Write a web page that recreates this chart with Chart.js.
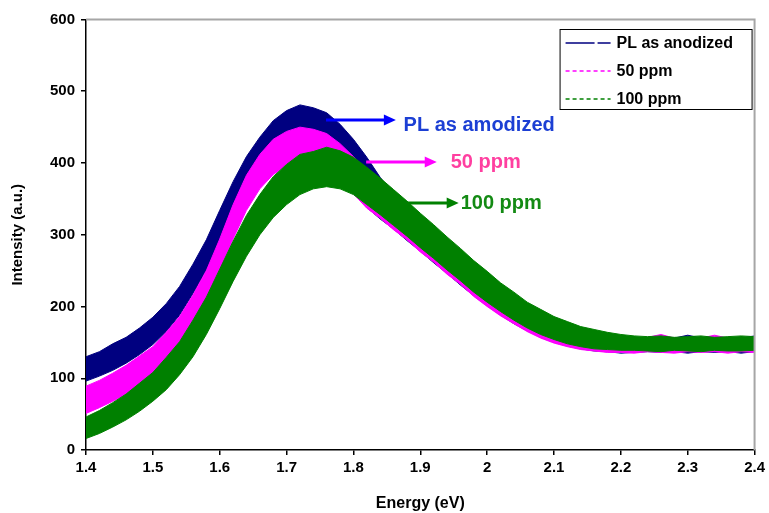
<!DOCTYPE html>
<html>
<head>
<meta charset="utf-8">
<script src="https://cdn.jsdelivr.net/npm/chart.js@4.4.0/dist/chart.umd.min.js"></script>
<style>
html,body{margin:0;padding:0;background:#fff;}
#wrap{width:769px;height:513px;position:relative;}
canvas{display:block;}
</style>
</head>
<body>
<div id="wrap"><canvas id="c" width="769" height="513"></canvas></div>
<script>
// ---- data (lower / upper edge of each noisy band) ----
const energy = [1.40,1.42,1.44,1.46,1.48,1.50,1.52,1.54,1.56,1.58,1.60,1.62,1.64,1.66,1.68,1.70,1.72,1.74,1.76,1.78,1.80,1.82,1.84,1.86,1.88,1.90,1.92,1.94,1.96,1.98,2.00,2.02,2.04,2.06,2.08,2.10,2.12,2.14,2.16,2.18,2.20,2.22,2.24,2.26,2.28,2.30,2.32,2.34,2.36,2.38,2.40];

const asAnodizedLow  = [96,103,111,121,133,147,165,188,218,251,291,330,364,390,410,423,429,428,419,402,372,338,322,308,292,277,261,246,230,215,201,188,176,166,157,150,145,141,138,137,135,136,137,136,137,135,137,136,137,135,137];
const asAnodizedHigh = [130,137,148,157,170,185,204,228,259,293,334,374,409,436,459,473,481,477,470,454,433,408,380,357,338,321,304,288,271,254,238,223,210,197,186,177,170,164,160,157,156,155,156,157,156,160,156,155,157,156,159];

const ppm50Low  = [51,59,68,78,90,104,121,144,171,206,247,294,334,364,384,396,401,400,392,377,357,337,323,307,293,276,262,245,231,214,200,187,176,165,156,149,144,140,138,136,136,135,137,136,135,137,136,137,135,137,136];
const ppm50High = [89,97,107,118,131,144,164,186,216,250,294,342,383,412,433,444,450,447,441,427,409,389,370,354,337,321,305,289,273,257,241,226,213,200,189,180,172,166,162,159,157,156,157,161,156,157,156,160,156,157,157];

const ppm100Low  = [16,23,32,42,54,68,84,105,130,161,197,235,270,300,324,342,356,364,367,364,356,342,328,313,298,282,267,251,236,220,206,193,181,170,161,154,148,144,141,140,139,139,138,137,139,138,137,139,138,138,139];
const ppm100High = [46,55,66,78,93,108,129,151,181,213,252,291,327,356,381,398,412,416,422,417,408,394,379,363,347,330,314,297,281,264,249,233,220,206,196,186,179,172,168,164,161,159,158,159,157,158,159,157,158,159,158];

const seriesNames = ['PL as anodized', '50 ppm', '100 ppm'];
const calloutTexts = ['PL as amodized', '50 ppm', '100 ppm'];

const xTickValues = [1.4,1.5,1.6,1.7,1.8,1.9,2.0,2.1,2.2,2.3,2.4];
const xTickLabels = ['1.4','1.5','1.6','1.7','1.8','1.9','2','2.1','2.2','2.3','2.4'];
const yTickValues = [0,100,200,300,400,500,600];
const yTickLabels = ['0','100','200','300','400','500','600'];

// callout anchors in data units: [arrow start x, arrow tip x, arrow y, text x, text baseline y]
const calloutAnchors = [
  [1.759, 1.8635, 460, 1.875, 444.6],
  [1.819, 1.9246, 401.4, 1.9455, 393],
  [1.872, 1.9574, 344.3, 1.9604, 335.9]
];

// ---- styling ----
const FONT = '"Liberation Sans", Arial, Helvetica, sans-serif';
const NAVY = '#000080', MAGENTA = '#ff00ff', GREEN = '#008000';
const calloutArrowColors = ['#0000ff', '#ff00ff', '#008000'];
const calloutTextColors = ['#1c3fd4', '#ff3fa0', '#138a13'];

function pts(arr){ return energy.map((e,i)=>({x:e, y:arr[i]})); }

function band(arr, color, order, fillTarget){
  return {
    data: pts(arr),
    borderColor: color,
    backgroundColor: color,
    borderWidth: 1,
    pointRadius: 0,
    tension: 0,
    order: order,
    fill: fillTarget === null ? false : {target: fillTarget}
  };
}

const decor = {
  id: 'decor',
  afterDraw(chart){
    const ctx = chart.ctx, ca = chart.chartArea;
    const xs = chart.scales.x, ys = chart.scales.y;
    ctx.save();
    // plot-area frame (top and right, grey)
    ctx.strokeStyle = '#a6a6a6';
    ctx.lineWidth = 2;
    ctx.beginPath();
    ctx.moveTo(ca.left, ca.top);
    ctx.lineTo(ca.right, ca.top);
    ctx.lineTo(ca.right, ca.bottom);
    ctx.stroke();

    // call-outs with arrows
    calloutAnchors.forEach((a, i) => {
      const x1 = xs.getPixelForValue(a[0]);
      const x2 = xs.getPixelForValue(a[1]);
      const y = ys.getPixelForValue(a[2]);
      ctx.strokeStyle = calloutArrowColors[i];
      ctx.fillStyle = calloutArrowColors[i];
      ctx.lineWidth = 3;
      ctx.beginPath();
      ctx.moveTo(x1, y);
      ctx.lineTo(x2 - 10, y);
      ctx.stroke();
      ctx.beginPath();
      ctx.moveTo(x2, y);
      ctx.lineTo(x2 - 12, y - 5.5);
      ctx.lineTo(x2 - 12, y + 5.5);
      ctx.closePath();
      ctx.fill();
      ctx.font = 'bold 20px ' + FONT;
      ctx.fillStyle = calloutTextColors[i];
      ctx.textBaseline = 'alphabetic';
      ctx.textAlign = 'left';
      ctx.fillText(calloutTexts[i], xs.getPixelForValue(a[3]), ys.getPixelForValue(a[4]));
    });

    // legend box
    const W = 192, H = 80;
    const L = ca.right - 195, T = ca.top + 9.5;
    ctx.fillStyle = '#fff';
    ctx.fillRect(L, T, W, H);
    ctx.strokeStyle = '#000';
    ctx.lineWidth = 1;
    ctx.strokeRect(L + 0.5, T + 0.5, W, H);
    const rowY = [T + 14, T + 42, T + 70];
    const colors = [NAVY, MAGENTA, GREEN];
    const dashes = [[29, 3], [4, 3], [4, 3]];
    ctx.font = 'bold 16px ' + FONT;
    ctx.textBaseline = 'middle';
    seriesNames.forEach((n, i) => {
      ctx.strokeStyle = colors[i];
      ctx.lineWidth = 1.5;
      ctx.setLineDash(dashes[i]);
      ctx.beginPath();
      ctx.moveTo(L + 6, rowY[i]);
      ctx.lineTo(L + 51, rowY[i]);
      ctx.stroke();
      ctx.setLineDash([]);
      ctx.fillStyle = '#000';
      ctx.fillText(n, L + 57, rowY[i] + 1);
    });
    ctx.restore();
  }
};

new Chart(document.getElementById('c'), {
  type: 'line',
  data: {
    datasets: [
      band(asAnodizedLow, NAVY, 6, null),
      band(asAnodizedHigh, NAVY, 5, 0),
      band(ppm50Low, MAGENTA, 4, null),
      band(ppm50High, MAGENTA, 3, 2),
      band(ppm100Low, GREEN, 2, null),
      band(ppm100High, GREEN, 1, 4)
    ]
  },
  options: {
    responsive: false,
    animation: false,
    devicePixelRatio: 1,
    layout: {padding: {left: 0, right: 12, top: 19.5, bottom: 0}},
    plugins: {legend: {display: false}, tooltip: {enabled: false}},
    scales: {
      x: {
        type: 'linear', min: 1.4, max: 2.4, z: 1,
        afterFit(s){ s.height = 63; },
        afterBuildTicks(s){ s.ticks = xTickValues.map(v => ({value: v})); },
        grid: {display: true, drawOnChartArea: false, drawTicks: true, tickLength: 5, color: '#000', lineWidth: 1.5},
        border: {display: true, color: '#000', width: 1.5},
        ticks: {
          padding: 4, color: '#000', maxRotation: 0, autoSkip: false,
          font: {family: FONT, size: 15, weight: 'bold'},
          callback: (v, i) => xTickLabels[i]
        },
        title: {display: true, text: 'Energy (eV)', color: '#000', padding: {top: 0, bottom: 0},
          font: {family: FONT, size: 16, weight: 'bold'}}
      },
      y: {
        type: 'linear', min: 0, max: 600, z: 1,
        afterFit(s){ s.width = 86; },
        afterBuildTicks(s){ s.ticks = yTickValues.map(v => ({value: v})); },
        grid: {display: true, drawOnChartArea: false, drawTicks: true, tickLength: 5, color: '#000', lineWidth: 1.5},
        border: {display: true, color: '#000', width: 1.5},
        ticks: {
          padding: 6, color: '#000', autoSkip: false,
          font: {family: FONT, size: 15, weight: 'bold'},
          callback: (v, i) => yTickLabels[i]
        },
        title: {display: true, text: 'Intensity (a.u.)', color: '#000', padding: {top: 9, bottom: 0},
          font: {family: FONT, size: 15, weight: 'bold'}}
      }
    }
  },
  plugins: [decor]
});
</script>
</body>
</html>
